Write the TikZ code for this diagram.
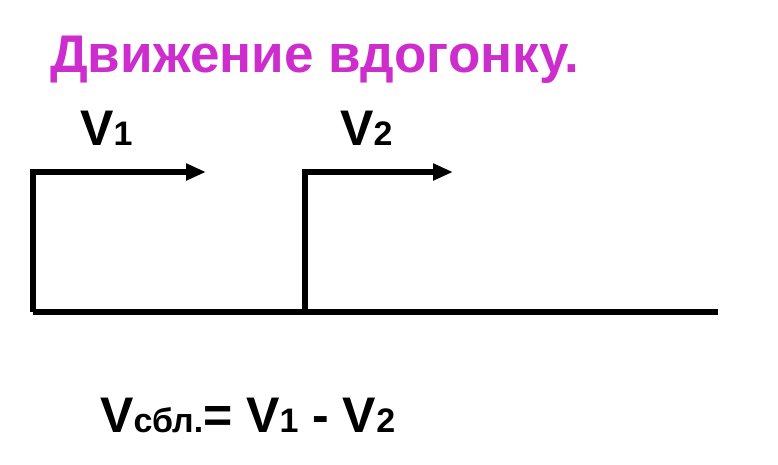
\documentclass[tikz,border=0pt]{standalone}
\usepackage{fontspec}
\setmainfont{Liberation Sans}
\usetikzlibrary{arrows.meta}
\definecolor{ttl}{RGB}{205,45,205}
\begin{document}
\begin{tikzpicture}[x=1pt,y=-1pt,
  ln/.style={line width=5.5pt},
  arr/.style={ln,-{Triangle[length=20pt,width=16pt]}},
  lbl/.style={font=\bfseries\fontsize{50}{54}\selectfont,anchor=base west,inner sep=0}]
\useasboundingbox (0,0) rectangle (778,464);
\node[anchor=base west,inner sep=0,text=ttl,font=\bfseries\fontsize{53}{58}\selectfont] (t) at (50,72) {Движение вдогонку.};
\coordinate (a0) at (33,312);
\coordinate (a1) at (33,172);
\coordinate (a2) at (206,172);
\coordinate (b0) at (305,312);
\coordinate (b1) at (305,172);
\coordinate (b2) at (453,172);
\coordinate (e) at (718,312);
\draw[ln] (a0) -- (e);
\draw[arr] (a0) -- (a1) -- (a2);
\draw[arr] (b0) -- (b1) -- (b2);
\node[lbl] (v1) at (80,145) {V{\fontsize{34}{38}\selectfont 1}};
\node[lbl] (v2) at (340,145) {V{\fontsize{34}{38}\selectfont 2}};
\node[lbl] (f) at (100,432) {V{\fontsize{34}{38}\selectfont сбл.}= V{\fontsize{34}{38}\selectfont 1} - V{\fontsize{34}{38}\selectfont 2}};
\end{tikzpicture}
\end{document}
